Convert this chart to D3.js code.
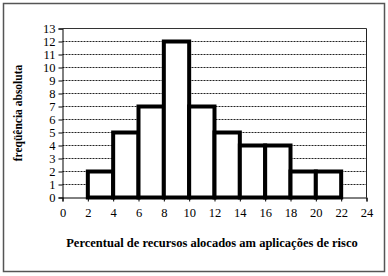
<!DOCTYPE html>
<html>
<head>
<meta charset="utf-8">
<script src="https://cdn.jsdelivr.net/npm/d3@7"></script>
<style>
  body { margin: 0; background: #fff; }
  text { font-family: "Liberation Serif", "Times New Roman", serif; }
</style>
</head>
<body>
<svg width="388" height="276"></svg>
<script>
// class limits (lower bound) and absolute frequencies
var classStart = [2, 4, 6, 8, 10, 12, 14, 16, 18, 20];
var frequency = [2, 5, 7, 12, 7, 5, 4, 4, 2, 2];
var xTicks = [0, 2, 4, 6, 8, 10, 12, 14, 16, 18, 20, 22, 24];
var yTicks = [0, 1, 2, 3, 4, 5, 6, 7, 8, 9, 10, 11, 12, 13];

var svg = d3.select("svg");

// outer frame
svg.append("rect")
    .attr("x", 3.5).attr("y", 3.5)
    .attr("width", 381).attr("height", 268)
    .attr("fill", "none")
    .attr("stroke", "#555")
    .attr("stroke-width", 1.5);

var x = d3.scaleLinear().domain([0, 24]).range([62.5, 366.5]);
var y = d3.scaleLinear().domain([0, 13]).range([197.5, 28.5]);

// gridlines
svg.append("g")
    .selectAll("line")
    .data(yTicks.filter(function(d) { return d > 0; }))
    .enter()
    .append("line")
    .attr("x1", x(0)).attr("x2", x(24))
    .attr("y1", function(d) { return y(d); })
    .attr("y2", function(d) { return y(d); })
    .attr("stroke", function(d) { return d == 13 ? "#333" : "#222"; })
    .attr("stroke-width", 1)
    .attr("stroke-dasharray", function(d) { return d == 13 ? null : "2,1"; });

// right border of plot
svg.append("line")
    .attr("x1", x(24)).attr("x2", x(24))
    .attr("y1", y(13)).attr("y2", y(0))
    .attr("stroke", "#222");

// bars
svg.append("g")
    .selectAll("rect")
    .data(classStart)
    .enter()
    .append("rect")
    .attr("x", function(d) { return x(d); })
    .attr("y", function(d, i) { return y(frequency[i]); })
    .attr("width", function(d) { return x(d + 2) - x(d); })
    .attr("height", function(d, i) { return y(0) - y(frequency[i]); })
    .attr("fill", "#fff")
    .attr("stroke", "#000")
    .attr("stroke-width", 4);

// axes
var yAxis = svg.append("g")
    .attr("transform", "translate(" + x(0) + ",0)")
    .call(d3.axisLeft(y).tickValues(yTicks).tickSize(4).tickPadding(3));
var xAxis = svg.append("g")
    .attr("transform", "translate(0," + y(0) + ")")
    .call(d3.axisBottom(x).tickValues(xTicks).tickSize(4).tickPadding(7));

[yAxis, xAxis].forEach(function(a) {
    a.select(".domain").attr("stroke", "#000");
    a.selectAll(".tick line").attr("stroke", "#000");
    a.selectAll("text")
        .style("font-family", "'Liberation Serif', serif")
        .style("font-size", "12.5px")
        .attr("fill", "#000");
});

// x label
svg.append("text")
    .attr("x", 212)
    .attr("y", 247)
    .attr("text-anchor", "middle")
    .style("font-weight", "bold")
    .style("font-size", "12.5px")
    .text("Percentual de recursos alocados am aplicações de risco");

// y label
svg.append("text")
    .attr("transform", "rotate(-90)")
    .attr("x", -113)
    .attr("y", 22)
    .attr("text-anchor", "middle")
    .style("font-weight", "bold")
    .style("font-size", "11.5px")
    .text("freqüência absoluta");
</script>
</body>
</html>
